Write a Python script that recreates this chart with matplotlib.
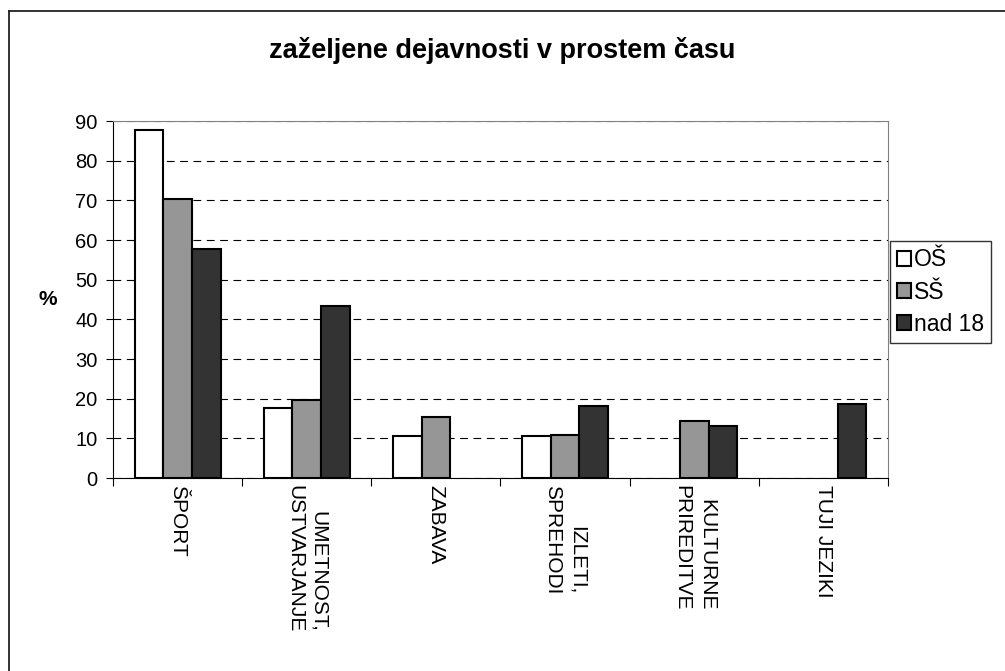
import numpy as np
import matplotlib
matplotlib.use('Agg')
import matplotlib.pyplot as plt
from matplotlib.lines import Line2D

plt.rcParams['font.family'] = ['Liberation Sans', 'DejaVu Sans']

# data
categories = ['ŠPORT', 'UMETNOST,\nUSTVARJANJE', 'ZABAVA', 'IZLETI,\nSPREHODI',
              'KULTURNE\nPRIREDITVE', 'TUJI JEZIKI']
series_names = ['OŠ', 'SŠ', 'nad 18']
os_vals = [87.8, 17.6, 10.6, 10.6, 0, 0]
ss_vals = [70.4, 19.6, 15.3, 10.8, 14.5, 0]
nad18_vals = [57.7, 43.4, 0, 18.2, 13.1, 18.6]
colors = ['#ffffff', '#969696', '#333333']

fig = plt.figure(figsize=(10.05, 6.71), dpi=100)
ax = fig.add_axes([0.1124, 0.2876, 0.7712, 0.532])

x = np.arange(len(categories))
w = 0.222
for i, (vals, c, name) in enumerate(zip([os_vals, ss_vals, nad18_vals], colors, series_names)):
    vals = np.array(vals, dtype=float)
    keep = vals > 0  # empty cells draw nothing
    ax.bar(x[keep] + (i - 1) * w, vals[keep], w, color=c, edgecolor='black',
           linewidth=1.5, label=name, zorder=3)

ax.set_xlim(-0.5, len(categories) - 0.5)
ax.set_ylim(0, 90)
ax.set_yticks(np.arange(0, 91, 10))
ax.yaxis.grid(True, linestyle=(0, (7, 5)), color='black', linewidth=0.8, zorder=0)
ax.tick_params(axis='y', labelsize=14.5, length=5, pad=6, direction='out')

# category boundaries as ticks, labels at centres
ax.set_xticks(np.arange(-0.5, len(categories), 1.0))
ax.set_xticklabels([])
ax.tick_params(axis='x', which='major', length=6, direction='out')
ax.set_xticks(x, minor=True)
ax.set_xticklabels(categories, minor=True, rotation=270, fontsize=15,
                   ha='center', va='top', linespacing=1.35)
for lab in ax.get_xticklabels(minor=True):
    lab.set_multialignment('right')
ax.tick_params(axis='x', which='minor', length=0, pad=5)

for s in ['top', 'right']:
    ax.spines[s].set_color('#808080')
for s in ['left', 'bottom']:
    ax.spines[s].set_color('black')

ax.set_ylabel('%', rotation=0, fontsize=15, fontweight='bold', va='center', ha='center')
ax.yaxis.set_label_coords(-0.084, 0.5)
fig.text(0.5, 1 - 50 / 671, 'zaželjene dejavnosti v prostem času', ha='center',
         va='center', fontsize=19.5, fontweight='bold')

leg = fig.legend(loc='center left', bbox_to_anchor=(890 / 1005, 1 - 292 / 671),
                 fontsize=16.5, frameon=True, fancybox=False, edgecolor='black',
                 handlelength=0.6, handleheight=0.6, handletextpad=0.15, borderpad=0.3,
                 labelspacing=0.4, borderaxespad=0.0)
leg.get_frame().set_linewidth(1.0)

# outer chart border (only left and top fall inside the picture)
fig.add_artist(Line2D([9 / 1005, 9 / 1005], [1 - 11 / 671, -0.05], transform=fig.transFigure,
                      color='#222222', linewidth=1.3))
fig.add_artist(Line2D([9 / 1005, 1.05], [1 - 11 / 671, 1 - 11 / 671], transform=fig.transFigure,
                      color='#222222', linewidth=1.3))

fig.savefig('out.png', dpi=100)
